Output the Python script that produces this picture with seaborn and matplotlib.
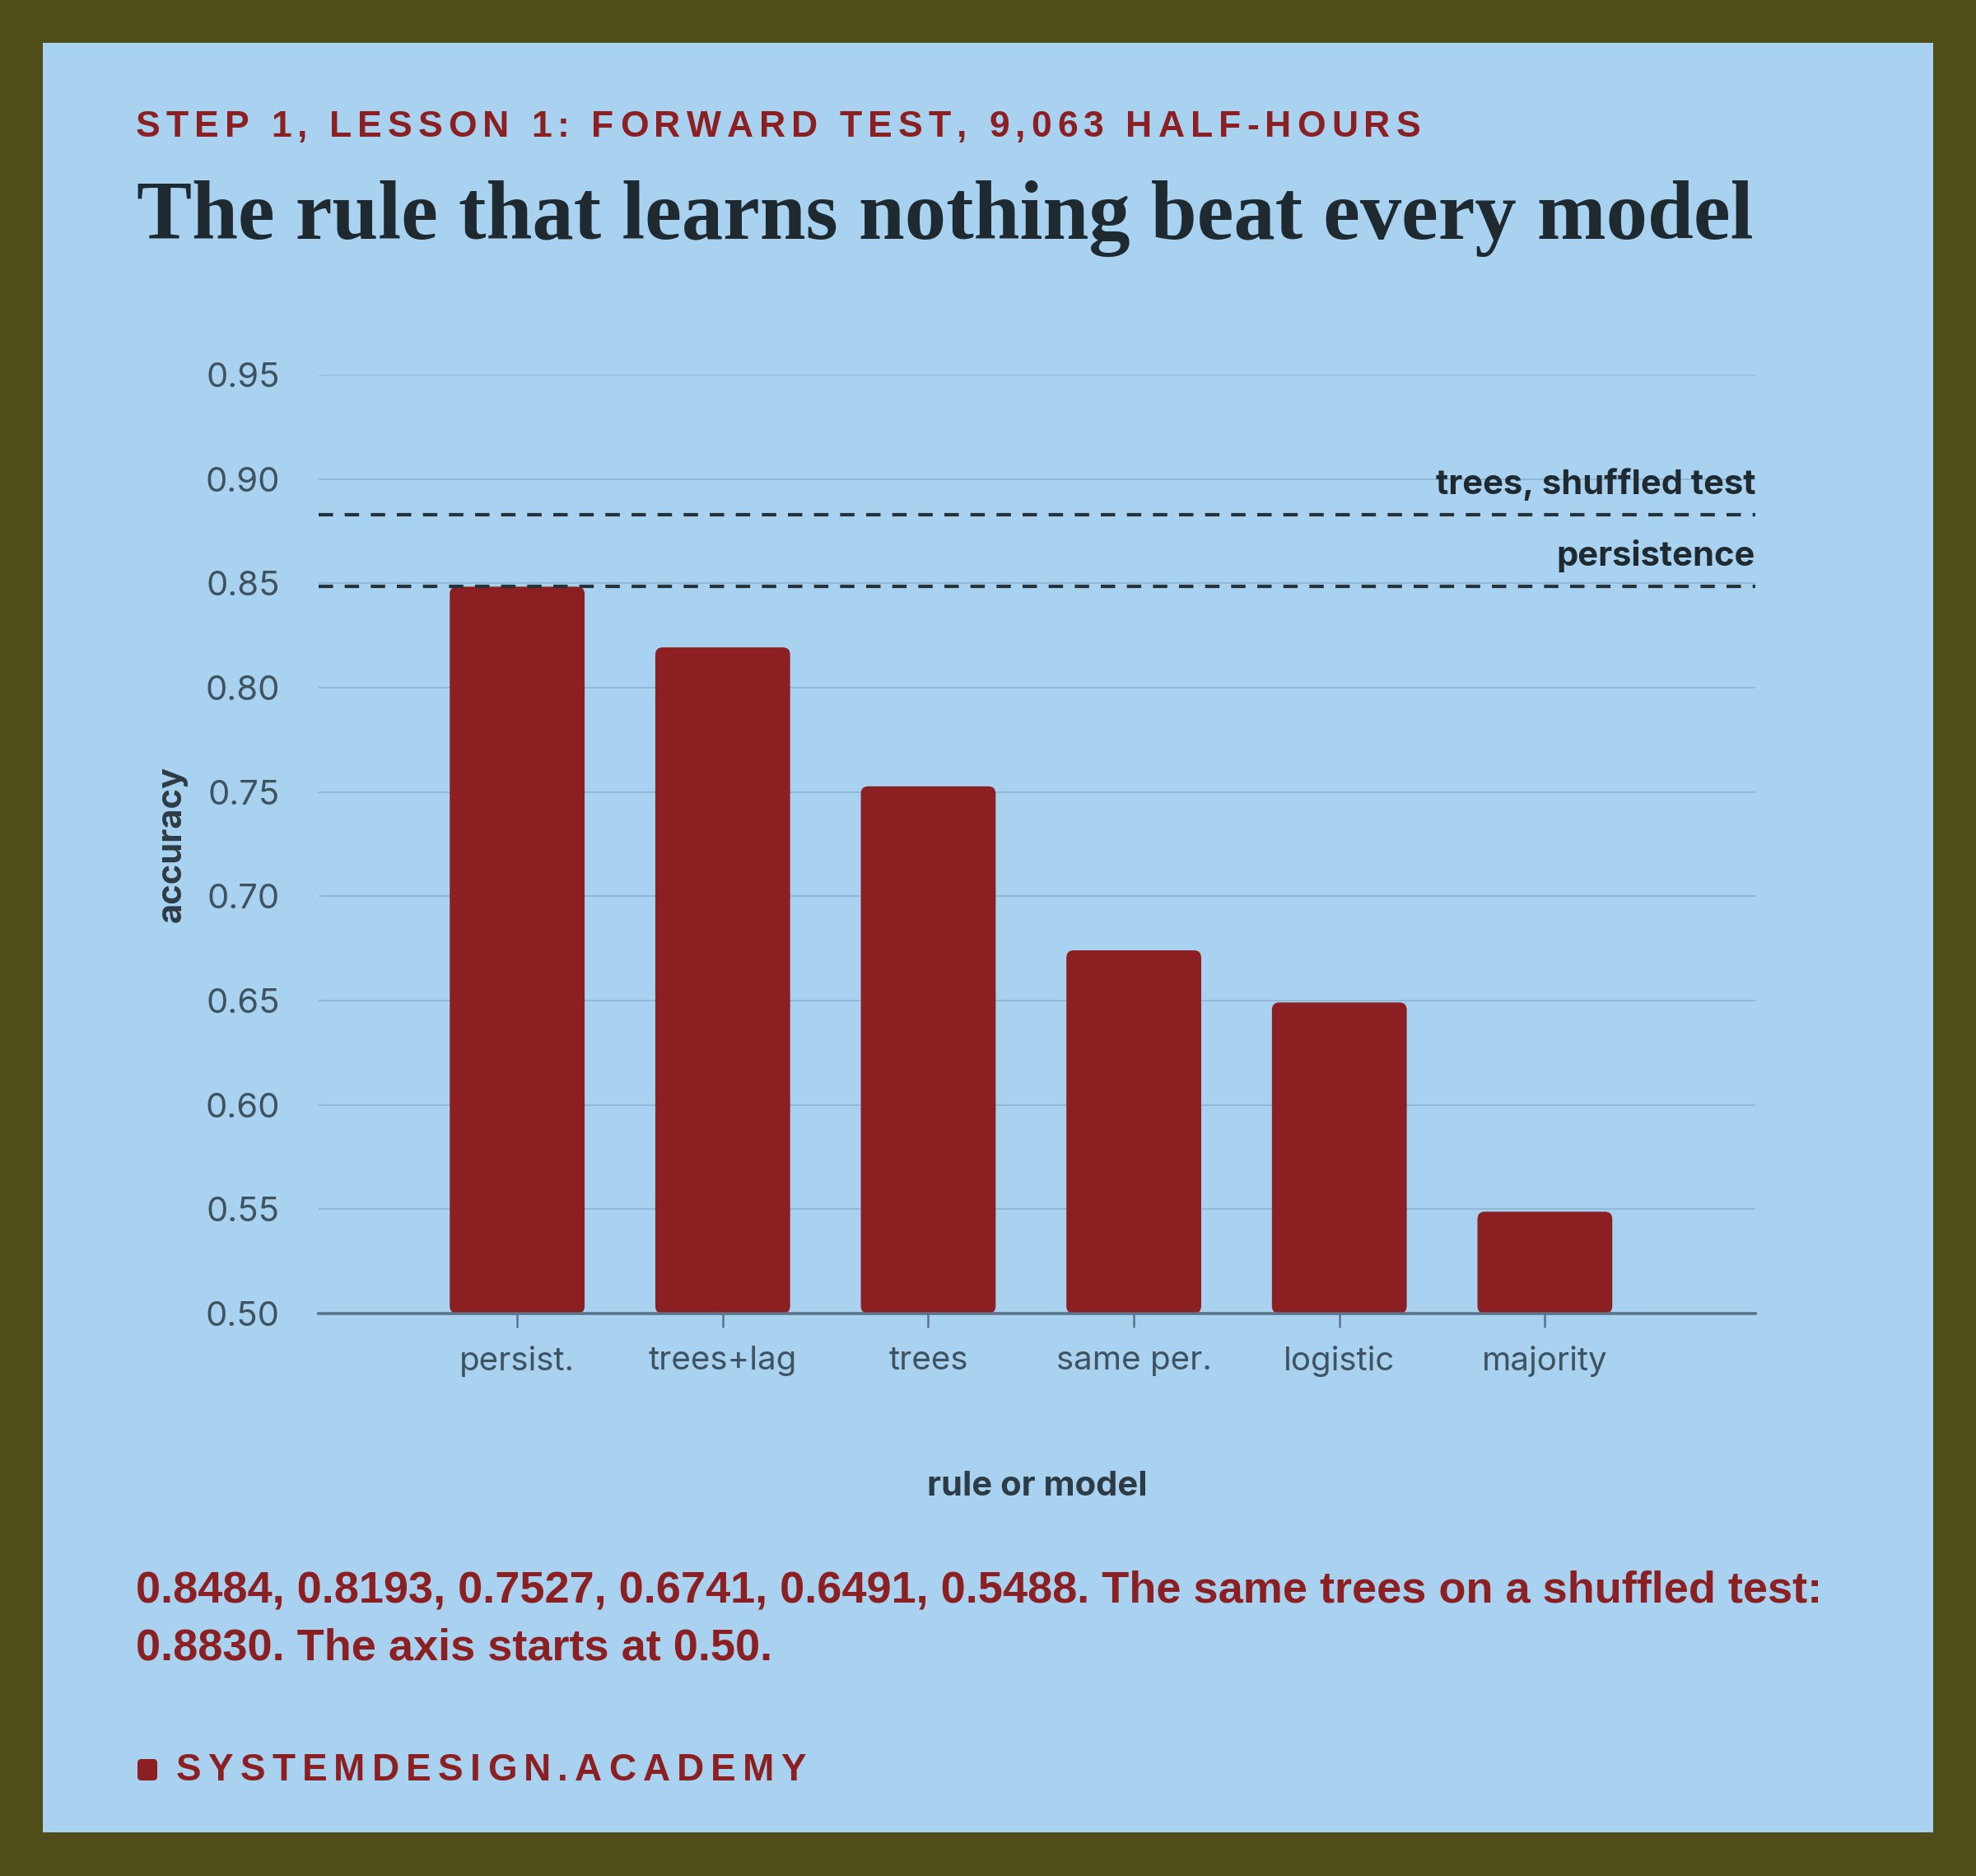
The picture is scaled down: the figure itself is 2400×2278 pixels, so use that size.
import numpy as np
import pandas as pd
import seaborn as sns
import matplotlib.pyplot as plt
from matplotlib.patches import FancyBboxPatch, Rectangle
from matplotlib.font_manager import FontProperties

# chart data
models = ['persist.', 'trees+lag', 'trees', 'same per.', 'logistic', 'majority']
accuracy = [0.8484, 0.8193, 0.7527, 0.6741, 0.6491, 0.5488]
shuffled_trees = 0.8830
persistence = 0.8484
y_ticks = [0.50, 0.55, 0.60, 0.65, 0.70, 0.75, 0.80, 0.85, 0.90, 0.95]

kicker = 'STEP 1, LESSON 1: FORWARD TEST, 9,063 HALF-HOURS'
title = 'The rule that learns nothing beat every model'
caption = ['0.8484, 0.8193, 0.7527, 0.6741, 0.6491, 0.5488. The same trees on a shuffled test:',
           '0.8830. The axis starts at 0.50.']
footer = 'SYSTEMDESIGN.ACADEMY'

# colours
OLIVE = '#4f4d18'
PANEL = '#a8d2f0'
RED = '#8b1f21'
INK = '#1f2a30'
TICK = '#3e5260'
GRID = '#8ebad6'
SPINE = '#5a7387'

W, H = 2400, 2278
sns.set_style('white')
plt.rcParams['font.family'] = ['Inter', 'DejaVu Sans']

fig = plt.figure(figsize=(W / 200, H / 200), dpi=200, facecolor=OLIVE)
fig.patches.append(Rectangle((52 / W, 53 / H), 1 - 104 / W, 1 - 105 / H,
                             transform=fig.transFigure, facecolor=PANEL,
                             edgecolor='none', zorder=-10))

ax = fig.add_axes([387 / W, 1 - 1595 / H, (2132 - 387) / W, (1595 - 455) / H])
ax.set_facecolor(PANEL)

df = pd.DataFrame({'model': models, 'accuracy': accuracy})
sns.barplot(data=df, x='model', y='accuracy', color=RED, saturation=1,
            width=0.656, ax=ax, zorder=3)

ax.set_ylim(0.5, 0.95)
ax.set_xlim(-0.966, 6.024)
ax.set_yticks(y_ticks)
ax.set_yticklabels([f'{v:.2f}' for v in y_ticks])

# swap plain bars for rounded ones that start at the axis floor
fig.canvas.draw()
px = ax.transData.transform([(0, 0), (1, 1)])
ux = px[1, 0] - px[0, 0]
uy = px[1, 1] - px[0, 1]
ylo = ax.get_ylim()[0]
for p in list(ax.patches):
    x0, w, top = p.get_x(), p.get_width(), p.get_height()
    p.remove()
    r = 9 / ux
    ax.add_patch(FancyBboxPatch((x0, ylo), w, top - ylo,
                                boxstyle=f'round,pad=0,rounding_size={r}',
                                mutation_aspect=ux / uy,
                                facecolor=RED, edgecolor='none', zorder=3))

# reference lines
for val, lab in [(shuffled_trees, 'trees, shuffled test'), (persistence, 'persistence')]:
    ax.axhline(val, color='#27333b', lw=1.5, dashes=(4.2, 3.4), zorder=4)
    ax.annotate(lab, xy=(1, val), xycoords=('axes fraction', 'data'),
                xytext=(0, 9), textcoords='offset points', ha='right', va='baseline',
                fontsize=15, fontweight='bold', color=INK, zorder=5)

ax.grid(axis='y', color=GRID, lw=0.7)
ax.grid(axis='x', visible=False)
ax.set_axisbelow(True)
for s in ['top', 'right', 'left']:
    ax.spines[s].set_visible(False)
ax.spines['bottom'].set_color(SPINE)
ax.spines['bottom'].set_linewidth(1.3)
ax.spines['bottom'].set_zorder(6)
ax.tick_params(axis='y', length=0, pad=17, labelsize=15, labelcolor=TICK)
ax.tick_params(axis='x', length=6, width=0.9, color=SPINE, pad=8,
               labelsize=14.5, labelcolor=TICK, bottom=True)

ax.set_xlabel('rule or model', fontsize=15, fontweight='bold', color='#2d3b45', labelpad=41)
ax.set_ylabel('accuracy', fontsize=15, fontweight='bold', color='#2d3b45', labelpad=8)


def tracked(x, y, s, track, **kw):
    # draw text one glyph at a time to get letter spacing
    rend = fig.canvas.get_renderer()
    fp = FontProperties(family=kw.get('family'), weight=kw.get('weight'), size=kw.get('size'))
    for ch in s:
        fig.text(x / W, 1 - y / H, ch, va='baseline', **kw)
        if ch == ' ':
            a = rend.get_text_width_height_descent('a a', fp, ismath=False)[0]
            b = rend.get_text_width_height_descent('aa', fp, ismath=False)[0]
            cw = a - b
        else:
            cw = rend.get_text_width_height_descent(ch, fp, ismath=False)[0]
        x += cw + track


tracked(165, 166, kicker, 7.1, family='Liberation Sans', weight='bold', size=16, color=RED)
fig.text(166 / W, 1 - 290 / H, title, va='baseline', family='Liberation Serif',
         weight='bold', size=36.2, color=INK)
for i, line in enumerate(caption):
    fig.text(165 / W, 1 - (1946 + i * 70) / H, line, va='baseline',
             family='Liberation Sans', weight='bold', size=19.5, color=RED)

fig.patches.append(FancyBboxPatch((167 / W, 1 - 2162 / H), 24 / W, 26 / H,
                                  boxstyle='round,pad=0,rounding_size=0.002',
                                  transform=fig.transFigure, facecolor=RED,
                                  edgecolor='none'))
tracked(214, 2162, footer, 8.2, family='Liberation Sans', weight='bold', size=16.5, color=RED)

fig.savefig('out.png', dpi=200, facecolor=OLIVE)
